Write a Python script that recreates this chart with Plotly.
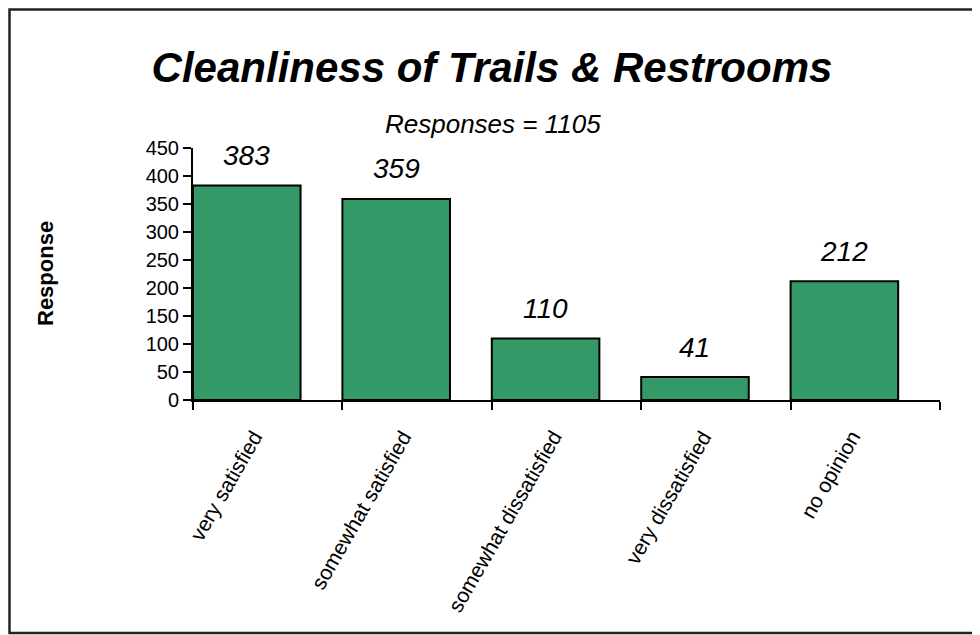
import plotly.graph_objects as go

# survey answers and counts
categories = ["very satisfied", "somewhat satisfied", "somewhat dissatisfied",
              "very dissatisfied", "no opinion"]
counts = [383, 359, 110, 41, 212]
y_ticks = [0, 50, 100, 150, 200, 250, 300, 350, 400, 450]

FONT = "Liberation Sans, Arial, sans-serif"
bar_w = 0.72

# page body adds an 8px margin, so the figure is a bit smaller than the window
W, H = 972, 627
L, T, PW, PH = 185, 140, 747, 252

fig = go.Figure()
fig.add_trace(go.Bar(
    x=categories, y=counts,
    width=bar_w, offset=-0.5,
    marker=dict(color="#339966", line=dict(color="black", width=2)),
    hoverinfo="x+y",
))

# value labels over the bars (bars sit on the left part of each slot)
for i, v in enumerate(counts):
    fig.add_annotation(x=i - 0.5 + bar_w / 2, y=v, text="<i>%d</i>" % v, showarrow=False,
                       xref="x", yref="y", yanchor="middle", yshift=30,
                       font=dict(family=FONT, size=28, color="black"))

# slanted category labels
for i, c in enumerate(categories):
    fig.add_annotation(x=i, y=0, text=c, showarrow=False, xref="x", yref="y",
                       textangle=-60, xanchor="right", yanchor="top", xshift=2, yshift=-24,
                       font=dict(family=FONT, size=21, color="black"))

fig.add_annotation(x=(485 - L) / PW, y=(T + PH - 99) / PH, xref="paper", yref="paper",
                   text="<i>Responses = 1105</i>", showarrow=False, xanchor="center",
                   font=dict(family=FONT, size=26, color="black"))
fig.add_annotation(x=(37 - L) / PW, y=0.5, xref="paper", yref="paper", text="<b>Response</b>",
                   textangle=-90, showarrow=False, xanchor="center", yanchor="middle",
                   font=dict(family=FONT, size=22, color="black"))

# frame around the whole chart
fig.add_shape(type="rect", xref="paper", yref="paper",
              x0=(1.5 - L) / PW, x1=(969 - L) / PW,
              y0=(T + PH - 625) / PH, y1=(T + PH - 1.5) / PH,
              line=dict(color="#222222", width=2.5))

fig.update_layout(
    width=W, height=H,
    margin=dict(l=L, r=W - L - PW, t=T, b=H - T - PH),
    paper_bgcolor="white", plot_bgcolor="white",
    showlegend=False,
    title=dict(text="<b><i>Cleanliness of Trails & Restrooms</i></b>", x=(484 - 0) / W,
               xanchor="center", y=1 - 59 / H, yanchor="middle",
               font=dict(family=FONT, size=42, color="black")),
    font=dict(family=FONT, color="black"),
)
fig.update_xaxes(type="category", range=[-0.5, 4.5], tickson="boundaries", ticks="outside",
                 ticklen=8, tickwidth=2, tickcolor="black", showline=True, linecolor="black",
                 linewidth=2, showticklabels=False, showgrid=False)
fig.update_yaxes(range=[0, 450], tickvals=y_ticks, ticks="outside", ticklen=8, tickwidth=2,
                 tickcolor="black", showline=True, linecolor="black", linewidth=2,
                 showgrid=False, zeroline=False, tickfont=dict(family=FONT, size=20))

fig.write_html("out.html")
